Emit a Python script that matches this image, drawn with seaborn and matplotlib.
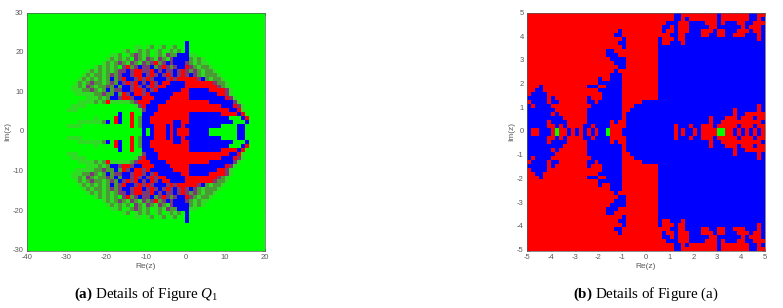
import matplotlib
matplotlib.use("Agg")
import matplotlib.pyplot as plt
from matplotlib.colors import ListedColormap
import pandas as pd
import seaborn as sns

G = "gggggggggg"
R = "rrrrrrrrrr"
B = "bbbbbbbbbb"

# upper half of panel (a), each cell is 1 x 1, top row is y=30..29
# l, m, n are cells too fine to resolve: light, medium and dark speckle
upper_a = [
    G + G + G + G + G + G,
    G + G + G + G + G + G,
    G + G + G + G + G + G,
    G + G + G + G + G + G,
    G + G + G + G + G + G,
    G + G + G + G + G + G,
    G + G + G + G + G + G,
    G + G + G + G + "bggggggggg" + G,
    G + G + "gggggggllg" + "lmglmglmgg" + "bggggggggg" + G,
    G + G + "gggglmglml" + "mglmglmlmg" + "bggggggggg" + G,
    G + G + "gllmglmnml" + "mglmlnmmbb" + "bllggggggg" + G,
    G + G + "lmlmlmgnml" + "nmlnmlnbbb" + "bmlmlggggg" + G,
    G + "gggggggggl" + "mlmnmlnmln" + "mnrmnbnbbb" + "nmlmllgggg" + G,
    G + "ggggggglml" + "mlmgnrmnbn" + "nbmnrnmnbb" + "rnmlmmlggg" + G,
    G + "ggggglmlml" + "mlmnnbnrrn" + "nrbnbnnbnr" + "nmnmlmmlgg" + G,
    G + "gggglmlmml" + "mnmnbbnrrb" + "nrnbnrnbnr" + "nbnmlmmmlg" + G,
    G + "ggglmlmlml" + "mbmnrbbnrn" + "rnbbbnrnrr" + "rrrnbmlmml" + G,
    G + "gglmlmnmml" + "mnmbnrnrbn" + "brnbrrbbbb" + "rrrrrrrnmm" + "lggggggggg",
    G + "gllmlnmlmm" + "nmbmbbnrnb" + "nrnrrbbbbb" + "rrrrrrrrnm" + "lggggggggg",
    G + "glllmmnmlm" + "bmnnbbnrrn" + "bnrbbbbbbr" + "rbbbbbrrrr" + "nlgggggggg",
    G + "gglllllmmn" + "mmbmrnbrrn" + "rbbbbbbrrr" + "rbbbbbbbrr" + "nlgggggggg",
    G + "ggggglllml" + "mbbnrrnbbr" + "rrbbbbrrrr" + "rbbbbbbbbb" + "rnlggggggg",
    G + "gggllllmlm" + "rlllllmnrr" + "rbbbbrrrrr" + "rrrrrrbbbb" + "bbnlgggggg",
    G + "gllllggggg" + "ggggggglnr" + "bbbrrrrrrr" + "rrrrrrrrrb" + "bbrnlggggg",
    G + "lllggggggg" + "ggggggggln" + "bbbrrrrrrr" + R + "rbbrlggggg",
    G + G + "gggbggrggb" + "bbrrrrrrrr" + "rbbbbbbbbr" + "rrrbrggggg",
    G + "ggggggglgg" + "ggrbggrgmb" + "brrrrrrrrr" + "rbbbbbbbbb" + "bgggbrgggg",
    G + "gggllllllm" + "bgrbggrgmb" + "brrrrrrbbr" + "rbbbbbbbbb" + "bbgggbgggg",
    G + "llllgggggg" + "ggggggrgmb" + "bbrrrbrbbr" + "bbbbbbbbbg" + "gggbbggggg",
    G + G + "gggggggggb" + "gbrrrbrbrr" + "rbbbbbgggg" + "gggbbggggg",
]

# upper half of panel (b), each cell is 1/6 x 1/6, top row starts at y=5
upper_b = [
    R + R + R + "rrrrrrrbbr" + "rrrrrrrrbr" + "rrrrrrbbrr",
    R + R + R + "rrrrrrrbbr" + "brrrrrrrbr" + "rrrrrrbbrb",
    R + R + R + "rrrrrbbbrr" + "rbbbbrrrbr" + "bbbrrbbrrr",
    R + R + R + "rrrrbbrbrr" + "rbbbbbrrbb" + "bbbbrbrrrb",
    R + R + "rrrbrrrrrr" + "rrrrbrrbrr" + "rbbbrrrbrr" + "bbbrrrbrrb",
    R + R + "rrbbrrrrrr" + "rrrrrrbbrr" + "bbbbrrbbrr" + "bbrrrbbbrb",
    R + R + "rrrrbrrrrr" + "rrrbrrrbrr" + B + "bbbbbbbbrb",
    R + R + "rrrbbrrrrr" + "rrrbrrbbbr" + B + B,
    R + R + "rrrrbrrrrr" + "rrrbbbbbbb" + B + B,
    R + R + "bbrrrrrrrr" + "rrrbbbbbbb" + B + B,
    R + R + "bbbrrrrrrr" + "rrrbbbbbbb" + B + B,
    R + R + "rbbbbrrrrr" + "rrrbbbbbbb" + B + B,
    R + R + "rrbbbrrrrr" + "rrrbbbbbbb" + B + B,
    R + R + "rrrbbrrrrr" + "rrrbbbbbbb" + B + B,
    R + R + "rrbrrrrrrr" + "rrrbbbbbbb" + B + B,
    R + R + "rbbbrrrrrr" + "rrrbbbbbbb" + B + B,
    R + "rrrrrrrrbr" + "rbbbrrrrrr" + "rrrbbbbbbb" + B + B,
    R + "rrrrrrrrbb" + "bbbbrrrrrr" + "rrrbbbbbbb" + B + B,
    "rrrbrrrrrr" + "rrrrrbbbrr" + "bbbbrrrrrr" + "rrrbbbbbbb" + B + B,
    "rrbbrrrrrr" + "rrrrrrrrbb" + "bbbbrrrrrr" + "rrrbbbbbbb" + B + B,
    "rbbbbrrrrr" + "rrrrrrrrrb" + "bbbbrrrrrr" + "rrrbbbbbbb" + B + B,
    "bbbbbrbrrr" + "rrrrrbrrrb" + "bbbbrrrrrr" + "rrrbbbbbbb" + B + B,
    "rbbbbrbbrr" + "rrrrrbbrbb" + "bbbbrrrrrb" + B + B + B,
    "brbbbbrrrr" + "rrrrrrbbbb" + "bbbbrrrbbb" + B + B + "bbbbbbbbrb",
    "bbbbbbbrrr" + "rrrrrbbbbb" + "bbbbrrbbbb" + B + B + "bbrbbbbbrb",
    "bbbbbbrbrr" + "rrrrrbbbbb" + "bbbbrbbbbb" + B + B + "bbrbbrrrrr",
    "bbbbbbbbbr" + "rrrrrbbbbb" + "bbbbrbbbbb" + B + "bbbbbbrbbb" + "rrrbrrrbrr",
    "bbbbbrbbbb" + "rrrrrbbbbb" + "brbrrbbbbb" + B + "bbbbbbrbbr" + "rrrrrrrrrb",
    "bbbbbrrbrb" + "rrrrbbrbbb" + "brrrrbbbbb" + "bbbbbbbrbb" + "brbbrrrbrr" + "rrrbrrrbrr",
    "brrbbbrgrr" + "brbrbrbrbb" + "grrrbbbbbb" + "bbbbbbbrbr" + "bbrbrrrrgg" + "rrbrbrbrbr",
]

xticks_a = [-40, -30, -20, -10, 0, 10, 20]
yticks_a = [30, 20, 10, 0, -10, -20, -30]
xticks_b = [-5, -4, -3, -2, -1, 0, 1, 2, 3, 4, 5]
yticks_b = [5, 4, 3, 2, 1, 0, -1, -2, -3, -4, -5]

basin_codes = {"g": 0, "r": 1, "b": 2, "l": 3, "m": 4, "n": 5}
basin_colors = ["#00ff00", "#ff0000", "#0000ff", "#2fdc24", "#4c9a35", "#7a3a78"]
grey = "#5a5a5a"


def draw_panel(ax, upper, xticks, yticks):
    rows = upper + upper[::-1]
    df = pd.DataFrame([[basin_codes[c] for c in row] for row in rows])
    sns.heatmap(df, ax=ax, cmap=ListedColormap(basin_colors), vmin=0, vmax=5,
                cbar=False, square=False)
    nx = df.shape[1]
    ny = df.shape[0]
    # value -> cell position
    ax.set_xticks([nx * (v - xticks[0]) / (xticks[-1] - xticks[0]) for v in xticks])
    ax.set_yticks([ny * (yticks[0] - v) / (yticks[0] - yticks[-1]) for v in yticks])
    ax.set_xticklabels([str(v) for v in xticks], rotation=0)
    ax.set_yticklabels([str(v) for v in yticks], rotation=0)
    ax.set_xlabel("Re(z)", fontsize=6, color=grey, labelpad=1.5)
    ax.set_ylabel("Im(z)", fontsize=6, color=grey, labelpad=1)
    ax.tick_params(axis="both", direction="in", length=2, width=0.4, labelsize=5.5,
                   colors=grey, top=True, right=True, bottom=True, left=True, pad=2.5)
    for spine in ax.spines.values():
        spine.set_visible(True)
        spine.set_linewidth(0.5)
        spine.set_color(grey)


sns.set_theme(style="white")
plt.rcParams["font.family"] = ["Liberation Sans", "DejaVu Sans"]
plt.rcParams["mathtext.fontset"] = "custom"
plt.rcParams["mathtext.rm"] = "Liberation Serif"
plt.rcParams["mathtext.it"] = "Liberation Serif:italic"
plt.rcParams["mathtext.bf"] = "Liberation Serif:bold"

W, H = 783, 308
fig = plt.figure(figsize=(W / 100, H / 100), dpi=100)
ax_a = fig.add_axes([27 / W, 1 - 250.7 / H, 237.5 / W, 237.4 / H])
ax_b = fig.add_axes([527.3 / W, 1 - 250.7 / H, 237.2 / W, 237.4 / H])

draw_panel(ax_a, upper_a, xticks_a, yticks_a)
draw_panel(ax_b, upper_b, xticks_b, yticks_b)

fig.text(146 / W, 1 - 294 / H, r"$\mathbf{(a)}$ Details of Figure $Q_1$",
         ha="center", va="center", fontsize=10.8, family="Liberation Serif", color="black")
fig.text(646 / W, 1 - 294 / H, r"$\mathbf{(b)}$ Details of Figure (a)",
         ha="center", va="center", fontsize=10.8, family="Liberation Serif", color="black")

fig.savefig("out.png", dpi=100)
